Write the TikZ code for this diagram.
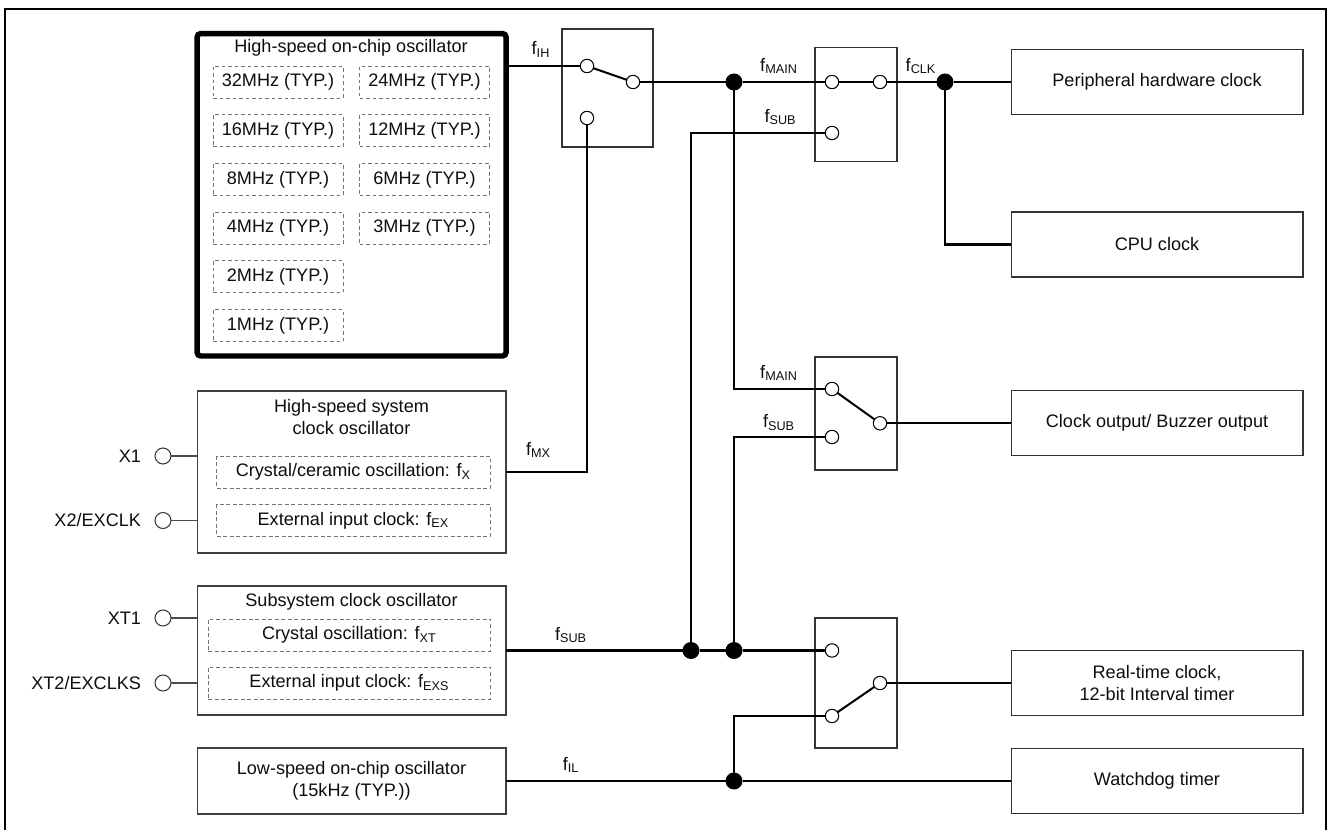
\documentclass[tikz,border=0pt]{standalone}
\usepackage{fontspec}
\setmainfont{Liberation Sans}
\usetikzlibrary{positioning, calc}

\begin{document}
\begin{tikzpicture}[
    x=0.02cm, y=-0.02cm,
    every node/.style={font=\fontsize{10.3}{12.4}\selectfont, text=black!95, inner sep=0pt, outer sep=0pt},
    blk/.style={draw=black!75, line width=0.6pt, minimum width=6.18cm},
    oscbox/.style={draw=black, line width=3.1pt, rounded corners=2pt, minimum width=6.18cm, minimum height=6.45cm},
    freq/.style={draw=black!55, dash pattern=on 2.2pt off 1.5pt, line width=0.55pt, minimum width=2.6cm, minimum height=0.64cm},
    srcbox/.style={draw=black!55, dash pattern=on 2.2pt off 1.5pt, line width=0.55pt, minimum height=0.64cm},
    swbox/.style={draw=black!80, line width=0.6pt, minimum width=1.64cm},
    contact/.style={circle, draw=black, fill=white, line width=0.6pt, minimum size=0.268cm},
    pin/.style={circle, draw=black!80, line width=0.6pt, minimum size=0.32cm},
    dot/.style={circle, fill=black, minimum size=0.34cm},
    outbox/.style={draw=black!80, line width=0.6pt, minimum width=5.84cm, minimum height=1.3cm, align=center},
    wire/.style={line width=1.15pt},
    pinwire/.style={draw=black!70, line width=0.6pt}
  ]
    \useasboundingbox (0,0) rectangle (1328,830);

    % Outer frame (open at the bottom)
    \draw[line width=1.2pt] (5,830) -- (5,9) -- (1326,9) -- (1326,830);

    % High-speed on-chip oscillator
    \node[oscbox] (hosc) at (351.6,194.8) {};
    \node (hoscT) at (351,48) {High-speed on-chip oscillator};
    \foreach \lf/\rf [count=\i] in {32/24,16/12,8/6,4/3} {
      \node[freq] (fl\i) at (278,{82+(\i-1)*48.7}) {\lf MHz (TYP.)};
      \node[freq] (fr\i) at (424.5,{82+(\i-1)*48.7}) {\rf MHz (TYP.)};
    }
    \node[freq] (fl5) at (278,276.5) {2MHz (TYP.)};
    \node[freq] (fl6) at (278,325.5) {1MHz (TYP.)};

    % High-speed system clock oscillator
    \node[blk, minimum height=3.24cm] (hsys) at (351.5,472) {};
    \node[align=center] (hsysT) at (351.5,417) {High-speed system\\clock oscillator};
    \node[srcbox, minimum width=5.47cm] (xtal) at (353.4,472) {Crystal/ceramic oscillation: f\textsubscript{X}};
    \node[srcbox, minimum width=5.47cm] (exclk) at (353.4,520.5) {External input clock: f\textsubscript{EX}};
    \node[pin] (pX1) at (163,456) {};
    \node[pin] (pX2) at (163,520.5) {};
    \node[anchor=east] (tX1) at (141,456) {X1};
    \node[anchor=east] (tX2) at (141,520.5) {X2/EXCLK};
    \draw[pinwire] (pX1) -- (pX1 -| hsys.west);
    \draw[pinwire] (pX2) -- (pX2 -| hsys.west);

    % Subsystem clock oscillator
    \node[blk, minimum height=2.58cm] (sub) at (351.5,650.5) {};
    \node (subT) at (351.5,602) {Subsystem clock oscillator};
    \node[srcbox, minimum width=5.65cm] (xt) at (349.4,635) {Crystal oscillation: f\textsubscript{XT}};
    \node[srcbox, minimum width=5.65cm] (exs) at (349.4,683) {External input clock: f\textsubscript{EXS}};
    \node[pin] (pXT1) at (163,618) {};
    \node[pin] (pXT2) at (163,683) {};
    \node[anchor=east] (tXT1) at (141,618) {XT1};
    \node[anchor=east] (tXT2) at (141,683) {XT2/EXCLKS};
    \draw[pinwire] (pXT1) -- (pXT1 -| sub.west);
    \draw[pinwire] (pXT2) -- (pXT2 -| sub.west);

    % Low-speed on-chip oscillator
    \node[blk, minimum height=1.32cm, align=center] (low) at (351.5,781) {Low-speed on-chip oscillator\\(15kHz (TYP.))};

    % Selector switches
    \node[swbox, minimum width=1.82cm, minimum height=2.36cm] (sw1) at (607.5,88) {};
    \node[contact] (s1a) at (587,66) {};
    \node[contact] (s1b) at (587,118) {};
    \node[contact] (s1o) at (633,82) {};

    \node[swbox, minimum height=2.27cm] (sw2) at (856,104.5) {};
    \node[contact] (s2a) at (832,82) {};
    \node[contact] (s2b) at (832,133) {};
    \node[contact] (s2o) at (880,82) {};

    \node[swbox, minimum height=2.26cm] (sw3) at (856,413.5) {};
    \node[contact] (s3a) at (832,389) {};
    \node[contact] (s3b) at (832,437) {};
    \node[contact] (s3o) at (880,423.3) {};

    \node[swbox, minimum height=2.6cm] (sw4) at (856,683) {};
    \node[contact] (s4a) at (832,650.5) {};
    \node[contact] (s4b) at (832,716) {};
    \node[contact] (s4o) at (880,683) {};

    % Branch points
    \node[dot] (d1) at (734,82) {};
    \node[dot] (d2) at (945,82) {};
    \node[dot] (d3) at (691,650.5) {};
    \node[dot] (d4) at (734,650.5) {};
    \node[dot] (d5) at (734,781) {};

    % Clock destinations
    \node[outbox] (per) at (1157,82) {Peripheral hardware clock};
    \node[outbox] (cpu) at (1157,244.5) {CPU clock};
    \node[outbox] (cko) at (1157,423.3) {Clock output/ Buzzer output};
    \node[outbox] (rtc) at (1157,683) {Real-time clock,\\12-bit Interval timer};
    \node[outbox] (wdt) at (1157,781) {Watchdog timer};

    % Clock lines
    \draw[wire] (hosc.east |- s1a) -- (s1a);
    \draw[wire] (s1a) -- (s1o);
    \draw[wire] (hsys.east) -| (s1b);
    \draw[wire] (s1o) -- (d1) -- (s2a);
    \draw[wire] (s2a) -- (s2o);
    \draw[wire] (s2o) -- (d2) -- (per.west);
    \draw[wire] (d2) |- (cpu.west);
    \draw[wire] (sub.east) -- (d3) -- (d4) -- (s4a);
    \draw[wire] (d3) |- (s2b);
    \draw[wire] (d1) |- (s3a);
    \draw[wire] (d4) |- (s3b);
    \draw[wire] (s3a) -- (s3o);
    \draw[wire] (s3o) -- (cko.west);
    \draw[wire] (low.east) -- (d5) -- (wdt.west);
    \draw[wire] (d5) |- (s4b);
    \draw[wire] (s4b) -- (s4o);
    \draw[wire] (s4o) -- (rtc.west);

    % Line labels
    \node (lIH) at (541,49.5) {f\textsubscript{IH}};
    \node (lMX) at (538.5,450) {f\textsubscript{MX}};
    \node (lMAIN1) at (779,66) {f\textsubscript{MAIN}};
    \node (lSUB1) at (780.5,117) {f\textsubscript{SUB}};
    \node (lCLK) at (921,66) {f\textsubscript{CLK}};
    \node (lMAIN2) at (779,373) {f\textsubscript{MAIN}};
    \node (lSUB2) at (779,422.5) {f\textsubscript{SUB}};
    \node (lSUB3) at (571,635) {f\textsubscript{SUB}};
    \node (lIL) at (571,765) {f\textsubscript{IL}};
\end{tikzpicture}
\end{document}
